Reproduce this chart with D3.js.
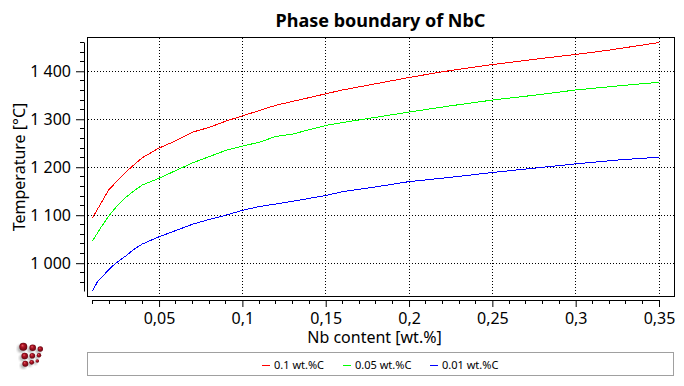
<!DOCTYPE html>
<html>
<head>
<meta charset="utf-8">
<title>Phase boundary of NbC</title>
<script src="https://cdn.jsdelivr.net/npm/d3@7"></script>
<style>
  html, body { margin: 0; padding: 0; background: #fff; overflow: hidden; }
  svg { display: block; font-family: "Noto Sans", sans-serif; }
</style>
</head>
<body>
<div id="chart"></div>
<script>
// Series values
const nbRed = [0.01, 0.015, 0.02, 0.026, 0.032, 0.04, 0.05, 0.06, 0.07, 0.08, 0.09, 0.1, 0.12, 0.14, 0.15, 0.16, 0.18, 0.2, 0.22, 0.25, 0.28, 0.3, 0.32, 0.35];
const tempRed = [1094, 1124, 1154, 1175, 1196, 1220, 1240, 1255, 1273, 1283, 1296, 1307, 1329, 1345, 1353, 1361, 1374, 1387, 1399, 1414, 1427, 1435, 1444, 1460];

const nbGreen = [0.01, 0.015, 0.02, 0.025, 0.03, 0.035, 0.04, 0.05, 0.06, 0.07, 0.08, 0.09, 0.1, 0.11, 0.12, 0.13, 0.15, 0.16, 0.18, 0.2, 0.225, 0.25, 0.275, 0.3, 0.33, 0.35];
const tempGreen = [1046, 1074, 1099, 1120, 1137, 1151, 1163, 1177, 1193, 1209, 1222, 1235, 1244, 1252, 1264, 1269, 1287, 1293, 1304, 1315, 1328, 1340, 1350, 1361, 1371, 1377];

const nbBlue = [0.01, 0.013, 0.02, 0.024, 0.03, 0.035, 0.04, 0.05, 0.06, 0.07, 0.08, 0.09, 0.1, 0.11, 0.125, 0.15, 0.16, 0.18, 0.2, 0.225, 0.25, 0.275, 0.3, 0.325, 0.35];
const tempBlue = [942, 961, 987, 1000, 1015, 1029, 1040, 1055, 1068, 1081, 1091, 1100, 1110, 1118, 1126, 1141, 1149, 1159, 1170, 1179, 1189, 1198, 1207, 1215, 1221];

// Ticks
const xTicks = [0.05, 0.1, 0.15, 0.2, 0.25, 0.3, 0.35];
const xMinorTicks = [0.01, 0.02, 0.03, 0.04, 0.06, 0.07, 0.08, 0.09, 0.11, 0.12, 0.13, 0.14, 0.16, 0.17, 0.18, 0.19, 0.21, 0.22, 0.23, 0.24, 0.26, 0.27, 0.28, 0.29, 0.31, 0.32, 0.33, 0.34];
const yTicks = [1000, 1100, 1200, 1300, 1400];
const yMinorTicks = [960, 980, 1020, 1040, 1060, 1080, 1120, 1140, 1160, 1180, 1220, 1240, 1260, 1280, 1320, 1340, 1360, 1380, 1420, 1440, 1460];

// Legend
const seriesNames = ["0.1 wt.%C", "0.05 wt.%C", "0.01 wt.%C"];
const seriesColors = ["#ff0000", "#00ff00", "#0000ff"];
const legendX = [262, 343, 430];

const svg = d3.select("#chart")
  .append("svg")
  .attr("width", 684)
  .attr("height", 386);

// Comma decimals, space as thousands separator
const locale = d3.formatLocale({ decimal: ",", thousands: " ", grouping: [3], currency: ["", ""] });

// Scales
const x = d3.scaleLinear().domain([0.01, 0.35]).range([92.4, 659]);
const y = d3.scaleLinear().domain([942, 1461]).range([291, 42]);

// Grid
const grid = svg.append("g")
  .attr("stroke", "#000")
  .attr("stroke-dasharray", "1,2")
  .attr("shape-rendering", "crispEdges");

grid.selectAll(".vgrid")
  .data(xTicks)
  .enter()
  .append("line")
  .attr("x1", d => Math.floor(x(d)) + 0.5)
  .attr("x2", d => Math.floor(x(d)) + 0.5)
  .attr("y1", 38)
  .attr("y2", 296);

grid.selectAll(".hgrid")
  .data(yTicks)
  .enter()
  .append("line")
  .attr("x1", 88)
  .attr("x2", 674)
  .attr("y1", d => Math.floor(y(d)) + 0.5)
  .attr("y2", d => Math.floor(y(d)) + 0.5);

// Plot frame
svg.append("rect")
  .attr("x", 87.5)
  .attr("y", 37.5)
  .attr("width", 587)
  .attr("height", 259)
  .attr("fill", "none")
  .attr("stroke", "#000")
  .attr("shape-rendering", "crispEdges");

// Curves
const line = d3.line()
  .x(d => x(d[0]))
  .y(d => y(d[1]));

[[nbRed, tempRed], [nbGreen, tempGreen], [nbBlue, tempBlue]].forEach((s, i) => {
  svg.append("path")
    .datum(d3.zip(s[0], s[1]))
    .attr("fill", "none")
    .attr("stroke", seriesColors[i])
    .attr("stroke-width", 1)
    .attr("shape-rendering", "crispEdges")
    .attr("d", line);
});

// X axis
const xAxis = svg.append("g")
  .attr("transform", "translate(0,300)")
  .call(d3.axisBottom(x)
    .tickValues(xTicks)
    .tickSize(7)
    .tickSizeOuter(0)
    .tickPadding(6)
    .tickFormat(locale.format(".2~f")));

xAxis.selectAll(".minor")
  .data(xMinorTicks)
  .enter()
  .append("line")
  .attr("class", "minor")
  .attr("stroke", "#000")
  .attr("x1", d => Math.floor(x(d)) + 0.5)
  .attr("x2", d => Math.floor(x(d)) + 0.5)
  .attr("y1", 0)
  .attr("y2", 4);

// Y axis
const yAxis = svg.append("g")
  .attr("transform", "translate(84,0)")
  .call(d3.axisLeft(y)
    .tickValues(yTicks)
    .tickSize(8)
    .tickSizeOuter(0)
    .tickPadding(5)
    .tickFormat(locale.format(",")));

yAxis.selectAll(".minor")
  .data(yMinorTicks)
  .enter()
  .append("line")
  .attr("class", "minor")
  .attr("stroke", "#000")
  .attr("x1", -4)
  .attr("x2", 0)
  .attr("y1", d => Math.floor(y(d)) + 0.5)
  .attr("y2", d => Math.floor(y(d)) + 0.5);

svg.selectAll(".tick text")
  .attr("fill", "#000")
  .style("font-family", "\"Noto Sans\", sans-serif")
  .style("font-size", "16px");

// Title
svg.append("text")
  .attr("x", 380.5)
  .attr("y", 27)
  .attr("text-anchor", "middle")
  .style("font-size", "18px")
  .style("font-weight", "bold")
  .text("Phase boundary of NbC");

// X axis label
svg.append("text")
  .attr("x", 374.5)
  .attr("y", 343)
  .attr("text-anchor", "middle")
  .style("font-size", "16px")
  .text("Nb content [wt.%]");

// Y axis label
svg.append("text")
  .attr("transform", "rotate(-90)")
  .attr("x", -167)
  .attr("y", 25)
  .attr("text-anchor", "middle")
  .style("font-size", "16px")
  .text("Temperature [°C]");

// Legend box
svg.append("rect")
  .attr("x", 87.5)
  .attr("y", 352.5)
  .attr("width", 586)
  .attr("height", 23)
  .attr("fill", "none")
  .attr("stroke", "#a0a0a0")
  .attr("shape-rendering", "crispEdges");

const legend = svg.selectAll(".legend-item")
  .data(seriesNames)
  .enter()
  .append("g")
  .attr("class", "legend-item")
  .attr("transform", (d, i) => `translate(${legendX[i]},0)`);

legend.append("line")
  .attr("x1", 0)
  .attr("x2", 8)
  .attr("y1", 365.5)
  .attr("y2", 365.5)
  .attr("stroke", (d, i) => seriesColors[i])
  .attr("shape-rendering", "crispEdges");

legend.append("text")
  .attr("x", 12)
  .attr("y", 369)
  .style("font-size", "11px")
  .text(d => d);

// Logo in the lower left corner
const defs = svg.append("defs");
const sphere = defs.append("radialGradient")
  .attr("id", "sphere")
  .attr("cx", "50%")
  .attr("cy", "50%")
  .attr("r", "55%")
  .attr("fx", "38%")
  .attr("fy", "32%");
sphere.append("stop").attr("offset", "0%").attr("stop-color", "#e8606a");
sphere.append("stop").attr("offset", "35%").attr("stop-color", "#b01525");
sphere.append("stop").attr("offset", "100%").attr("stop-color", "#5c0510");
defs.append("filter")
  .attr("id", "soft")
  .append("feGaussianBlur")
  .attr("stdDeviation", 1);

const logoSpheres = [[23.3, 346.7, 4], [32.7, 347.7, 3.3], [40.3, 349, 2.7], [24.7, 356, 3.3], [32.3, 355.7, 2.8], [39, 355.3, 2.2], [25.3, 363.7, 3], [31.7, 362.3, 2.4], [37.3, 361, 1.8]];
const logo = svg.append("g");

logo.selectAll(".shade")
  .data(logoSpheres)
  .enter()
  .append("circle")
  .attr("cx", d => d[0] - 2)
  .attr("cy", d => d[1] + 2)
  .attr("r", d => d[2])
  .attr("fill", "#888")
  .attr("opacity", 0.6)
  .attr("filter", "url(#soft)");

logo.selectAll(".ball")
  .data(logoSpheres)
  .enter()
  .append("circle")
  .attr("cx", d => d[0])
  .attr("cy", d => d[1])
  .attr("r", d => d[2])
  .attr("fill", "url(#sphere)");
</script>
</body>
</html>
